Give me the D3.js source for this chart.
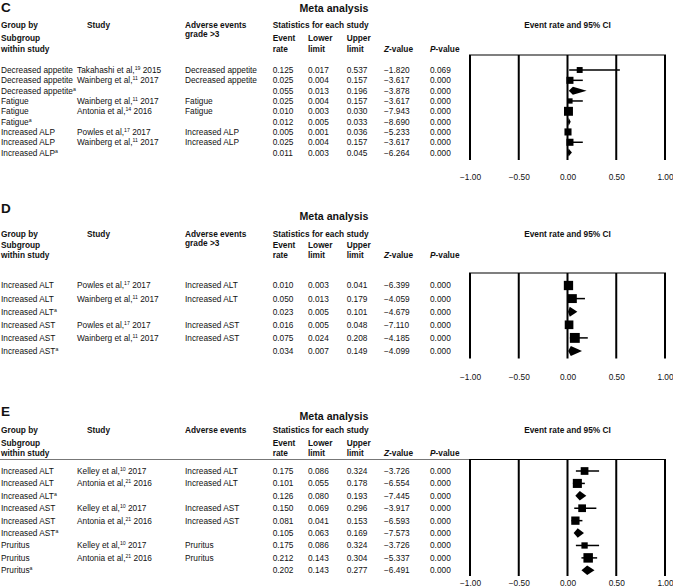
<!DOCTYPE html>
<html>
<head>
<meta charset="utf-8">
<script src="https://cdn.jsdelivr.net/npm/d3@7"></script>
<style>
  html, body { margin: 0; padding: 0; background: #fff; }
  svg { display: block; font-family: "Liberation Sans", Arial, Helvetica, sans-serif; }
</style>
</head>
<body>
<svg id="chart" width="673" height="588"></svg>
<script>
// ---------------- DATA ----------------
const xTickValues = [-1, -0.5, 0, 0.5, 1];
const xTickLabels = ["\u22121.00", "\u22120.50", "0.00", "0.50", "1.00"];

// Panel C
const cGroups   = ["Decreased appetite","Decreased appetite","Decreased appetite","Fatigue","Fatigue","Fatigue","Increased ALP","Increased ALP","Increased ALP"];
const cSummary  = [false,false,true,false,false,true,false,false,true];
const cAuthors  = ["Takahashi et al,","Wainberg et al,","","Wainberg et al,","Antonia et al,","","Powles et al,","Wainberg et al,",""];
const cRefs     = ["19","11","","11","14","","17","11",""];
const cYears    = ["2015","2017","","2017","2016","","2017","2017",""];
const cEvents   = ["Decreased appetite","Decreased appetite","","Fatigue","Fatigue","","Increased ALP","Increased ALP",""];
const cRate     = [0.125,0.025,0.055,0.025,0.010,0.012,0.005,0.025,0.011];
const cLower    = [0.017,0.004,0.013,0.004,0.003,0.005,0.001,0.004,0.003];
const cUpper    = [0.537,0.157,0.196,0.157,0.030,0.033,0.036,0.157,0.045];
const cZ        = [-1.820,-3.617,-3.878,-3.617,-7.943,-8.690,-5.233,-3.617,-6.264];
const cP        = [0.069,0.000,0.000,0.000,0.000,0.000,0.000,0.000,0.000];
const cWeight   = [35,50,0,28,80,0,50,50,0];

// Panel D
const dGroups   = ["Increased ALT","Increased ALT","Increased ALT","Increased AST","Increased AST","Increased AST"];
const dSummary  = [false,false,true,false,false,true];
const dAuthors  = ["Powles et al,","Wainberg et al,","","Powles et al,","Wainberg et al,",""];
const dRefs     = ["17","11","","17","11",""];
const dYears    = ["2017","2017","","2017","2017",""];
const dEvents   = ["Increased ALT","Increased ALT","","Increased AST","Increased AST",""];
const dRate     = [0.010,0.050,0.023,0.016,0.075,0.034];
const dLower    = [0.003,0.013,0.005,0.005,0.024,0.007];
const dUpper    = [0.041,0.179,0.101,0.048,0.208,0.149];
const dZ        = [-6.399,-4.059,-4.679,-7.110,-4.185,-4.099];
const dP        = [0.000,0.000,0.000,0.000,0.000,0.000];
const dWeight   = [60,55,0,52,68,0];

// Panel E
const eGroups   = ["Increased ALT","Increased ALT","Increased ALT","Increased AST","Increased AST","Increased AST","Pruritus","Pruritus","Pruritus"];
const eSummary  = [false,false,true,false,false,true,false,false,true];
const eAuthors  = ["Kelley et al,","Antonia et al,","","Kelley et al,","Antonia et al,","","Kelley et al,","Antonia et al,",""];
const eRefs     = ["10","21","","10","21","","10","21",""];
const eYears    = ["2017","2016","","2017","2016","","2017","2016",""];
const eEvents   = ["Increased ALT","Increased ALT","","Increased AST","Increased AST","","Pruritus","Pruritus",""];
const eRate     = [0.175,0.101,0.126,0.150,0.081,0.105,0.175,0.212,0.202];
const eLower    = [0.086,0.055,0.080,0.069,0.041,0.063,0.086,0.143,0.143];
const eUpper    = [0.324,0.178,0.193,0.296,0.153,0.169,0.324,0.304,0.277];
const eZ        = [-3.726,-6.554,-7.445,-3.917,-6.593,-7.573,-3.726,-5.337,-6.491];
const eP        = [0.000,0.000,0.000,0.000,0.000,0.000,0.000,0.000,0.000];
const eWeight   = [45,62,0,45,52,0,30,68,0];

// ---------------- DRAWING ----------------
const svg = d3.select("#chart");
const FS = 8.3;           // body font size
const HFS = 8.3;          // header font size
const ink = "#111";
const fmt3 = d3.format(".3f");
const fmtNum = v => (v < 0 ? "\u2212" + fmt3(-v) : fmt3(v));

const x = d3.scaleLinear().domain([-1, 1]).range([470, 665]);

const col = { group: 1, studyHead: 87, study: 77, event: 185, rate: 272.7, lower: 308, upper: 346.7, z: 384, p: 430 };

function drawPanel(p) {
  const g = svg.append("g");
  const rows = d3.range(p.rate.length);
  const y = d3.scalePoint().domain(rows).range([p.rowFirst, p.rowLast]);
  const size = d3.scaleSqrt().domain([0, 100]).range([0, p.maxBox]);

  const txt = (xx, yy, s, opts = {}) => {
    const t = g.append("text").attr("x", xx).attr("y", yy)
      .attr("dy", "0.35em")
      .attr("font-size", opts.size || FS)
      .attr("font-weight", opts.bold ? "bold" : "normal")
      .attr("fill", ink)
      .attr("text-anchor", opts.anchor || "start")
      .text(s);
    return t;
  };

  // panel letter & title
  txt(1, p.letterY, p.letter, { bold: true, size: 13.5 });
  txt(334, p.titleY, "Meta analysis", { bold: true, size: 10.6, anchor: "middle" });

  // headers
  txt(col.group, p.h1, "Group by", { bold: true, size: HFS });
  txt(col.group, p.h2, "Subgroup", { bold: true, size: HFS });
  txt(col.group, p.h3, "within study", { bold: true, size: HFS });
  txt(col.studyHead, p.h1, "Study", { bold: true, size: HFS });
  txt(col.event, p.h1, "Adverse events", { bold: true, size: HFS });
  if (p.grade) txt(col.event, p.h1 + 9.5, "grade >3", { bold: true, size: HFS });
  txt(col.rate, p.h1, "Statistics for each study", { bold: true, size: HFS });
  txt(col.rate, p.h2, "Event", { bold: true, size: HFS });
  txt(col.rate, p.h3, "rate", { bold: true, size: HFS });
  txt(col.lower, p.h2, "Lower", { bold: true, size: HFS });
  txt(col.lower, p.h3, "limit", { bold: true, size: HFS });
  txt(col.upper, p.h2, "Upper", { bold: true, size: HFS });
  txt(col.upper, p.h3, "limit", { bold: true, size: HFS });
  const zt = txt(col.z, p.h3, "", { bold: true, size: HFS });
  zt.append("tspan").attr("font-style", "italic").text("Z");
  zt.append("tspan").text("-value");
  const pt = txt(col.p, p.h3, "", { bold: true, size: HFS });
  pt.append("tspan").attr("font-style", "italic").text("P");
  pt.append("tspan").text("-value");
  txt(x(0), p.h1, "Event rate and 95% CI", { bold: true, size: HFS, anchor: "middle" });

  // separator rule
  if (p.fullRule) {
    g.append("line").attr("x1", 0).attr("x2", x(1)).attr("y1", p.boxTop).attr("y2", p.boxTop)
      .attr("stroke", "#777").attr("stroke-width", 1);
  }
  g.append("line").attr("x1", x(-1) - 1).attr("x2", x(1) + 1).attr("y1", p.boxTop).attr("y2", p.boxTop)
    .attr("stroke", "#000").attr("stroke-width", 1.2);

  // vertical reference lines
  g.selectAll("line.grid").data(xTickValues).join("line").attr("class", "grid")
    .attr("x1", d => x(d)).attr("x2", d => x(d))
    .attr("y1", p.boxTop).attr("y2", p.boxBottom)
    .attr("stroke", "#000").attr("stroke-width", 2);

  // axis labels
  const axis = d3.axisBottom(x).tickValues(xTickValues)
    .tickFormat((d, i) => xTickLabels[i]).tickSize(0);
  const ag = g.append("g").attr("transform", `translate(0,${p.tickY})`).call(axis);
  ag.select(".domain").remove();
  ag.selectAll("text").attr("y", 0).attr("dy", "0.35em")
    .attr("font-size", FS).attr("fill", ink)
    .attr("font-family", '"Liberation Sans", Arial, sans-serif');

  // rows: text columns
  rows.forEach(i => {
    const yy = y(i);
    const gt = txt(col.group, yy, p.groups[i]);
    if (p.summary[i]) {
      gt.append("tspan").attr("font-size", 5.2).attr("dy", -3).text("a");
    }
    if (p.authors[i]) {
      const st = txt(col.study, yy, p.authors[i]);
      st.append("tspan").attr("font-size", 5.2).attr("dy", -3).text(p.refs[i]);
      st.append("tspan").attr("dy", 3).text(" " + p.years[i]);
    }
    if (p.events[i]) txt(col.event, yy, p.events[i]);
    txt(col.rate, yy, fmt3(p.rate[i]));
    txt(col.lower, yy, fmt3(p.lower[i]));
    txt(col.upper, yy, fmt3(p.upper[i]));
    txt(col.z, yy, fmtNum(p.z[i]));
    txt(col.p, yy, fmt3(p.p[i]));
  });

  // study marks: CI lines + squares
  const studies = rows.filter(i => !p.summary[i]);
  g.selectAll("line.ci").data(studies).join("line").attr("class", "ci")
    .attr("x1", i => x(p.lower[i])).attr("x2", i => x(p.upper[i]))
    .attr("y1", i => y(i)).attr("y2", i => y(i))
    .attr("stroke", "#000").attr("stroke-width", 1.5);
  g.selectAll("rect.box").data(studies).join("rect").attr("class", "box")
    .attr("x", i => x(p.rate[i]) - size(p.weight[i]) / 2)
    .attr("y", i => y(i) - size(p.weight[i]) / 2)
    .attr("width", i => size(p.weight[i]))
    .attr("height", i => size(p.weight[i]))
    .attr("fill", "#000");

  // summary diamonds
  const sums = rows.filter(i => p.summary[i]);
  g.selectAll("path.diamond").data(sums).join("path").attr("class", "diamond")
    .attr("d", i => {
      const yy = y(i), h = p.diamondH / 2;
      return `M${x(p.lower[i])},${yy}L${x(p.rate[i])},${yy - h}L${x(p.upper[i])},${yy}L${x(p.rate[i])},${yy + h}Z`;
    })
    .attr("fill", "#000");
}

drawPanel({
  letter: "C", letterY: 7.5, titleY: 8.5, h1: 25, h2: 38, h3: 49.3, grade: true,
  boxTop: 55, boxBottom: 160, tickY: 177, rowFirst: 70, rowLast: 152.6,
  maxBox: 10, diamondH: 8, fullRule: false,
  groups: cGroups, summary: cSummary, authors: cAuthors, refs: cRefs, years: cYears, events: cEvents,
  rate: cRate, lower: cLower, upper: cUpper, z: cZ, p: cP, weight: cWeight
});
drawPanel({
  letter: "D", letterY: 208, titleY: 216, h1: 233.7, h2: 245, h3: 255.3, grade: true,
  boxTop: 273, boxBottom: 358.5, tickY: 377, rowFirst: 285.5, rowLast: 351,
  maxBox: 12, diamondH: 10, fullRule: false,
  groups: dGroups, summary: dSummary, authors: dAuthors, refs: dRefs, years: dYears, events: dEvents,
  rate: dRate, lower: dLower, upper: dUpper, z: dZ, p: dP, weight: dWeight
});
drawPanel({
  letter: "E", letterY: 411, titleY: 416, h1: 430, h2: 443, h3: 453, grade: false,
  boxTop: 459.5, boxBottom: 576, tickY: 583.5, rowFirst: 471, rowLast: 570.3,
  maxBox: 11.5, diamondH: 9.5, fullRule: true,
  groups: eGroups, summary: eSummary, authors: eAuthors, refs: eRefs, years: eYears, events: eEvents,
  rate: eRate, lower: eLower, upper: eUpper, z: eZ, p: eP, weight: eWeight
});
</script>
</body>
</html>
